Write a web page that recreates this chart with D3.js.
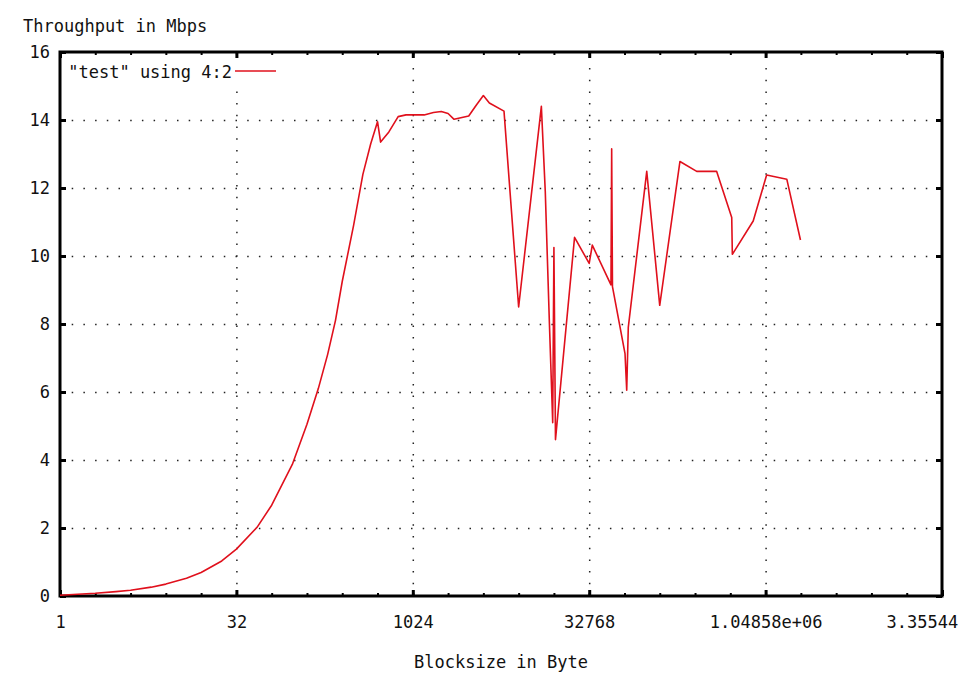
<!DOCTYPE html>
<html>
<head>
<meta charset="utf-8">
<script src="https://cdn.jsdelivr.net/npm/d3@7"></script>
<style>
body { margin: 0; background: #fff; }
text { font-family: "DejaVu Sans Mono", monospace; font-size: 17px; fill: #111; }
</style>
</head>
<body>
<div id="chart"></div>
<script>
// data
var blocksize = [1, 2, 3, 4, 6, 8, 12, 16, 24, 32, 48, 64, 96, 128, 160, 192, 224, 256,
    320, 384, 448, 512, 544, 640, 768, 896, 1024, 1280, 1536, 1792, 2048, 2304, 3072,
    3584, 4096, 4608, 6144, 8192, 12800, 13824, 15000, 16000, 16384, 16896, 24576,
    32768, 34816, 50260, 50960, 51750, 66230, 68470, 70630, 101500, 131000, 194900,
    271000, 400400, 539000, 545600, 822000, 1070000, 1590000, 2080000];
var mbps = [0.02, 0.08, 0.13, 0.17, 0.26, 0.35, 0.52, 0.69, 1.03, 1.38, 2.02, 2.67, 3.87,
    5.05, 6.1, 7.1, 8.1, 9.25, 10.9, 12.4, 13.3, 13.95, 13.35, 13.65, 14.1, 14.15, 14.15,
    14.15, 14.22, 14.25, 14.19, 14.02, 14.12, 14.45, 14.72, 14.5, 14.26, 8.5, 14.4, 11.9,
    8.0, 5.1, 10.25, 4.6, 10.55, 9.78, 10.32, 9.15, 13.15, 9.1, 7.13, 6.05, 7.9, 12.49,
    8.55, 12.78, 12.49, 12.49, 11.13, 10.05, 11.03, 12.38, 12.26, 10.47];

var xTickValues = [1, 32, 1024, 32768, 1048576, 33554432];
// last label is cut at the window edge in the original
var xTickLabels = ["1", "32", "1024", "32768", "1.04858e+06", "3.35544"];
var yTickValues = [0, 2, 4, 6, 8, 10, 12, 14, 16];
var seriesName = "\"test\" using 4:2";

var svgWidth = 963;
var svgHeight = 677;
var margin = { top: 52, right: 21, bottom: 81, left: 60 };
var width = svgWidth - margin.left - margin.right;
var height = svgHeight - margin.top - margin.bottom;

var svg = d3.select("#chart")
    .append("svg")
    .attr("width", svgWidth)
    .attr("height", svgHeight);

var chartGroup = svg.append("g")
    .attr("transform", `translate(${margin.left},${margin.top})`);

var data = blocksize.map((b, i) => ({ x: b, y: mbps[i] }));

var xScale = d3.scaleLog().base(2)
    .domain([1, 33554432])
    .range([0, width]);
var yScale = d3.scaleLinear()
    .domain([0, 16])
    .range([height, 0]);

// minor ticks every power of two
var xMinor = d3.range(0, 26).map(i => Math.pow(2, i));

// grid (dotted)
var gridX = chartGroup.append("g")
    .attr("transform", `translate(0,${height})`)
    .call(d3.axisBottom(xScale).tickValues(xTickValues.slice(1, -1)).tickSize(-height).tickFormat(""));
var gridY = chartGroup.append("g")
    .call(d3.axisLeft(yScale).tickValues(yTickValues.slice(1, -1)).tickSize(-width).tickFormat(""));
[gridX, gridY].forEach(function(g) {
    g.select(".domain").remove();
    g.selectAll("line")
        .attr("stroke", "#222")
        .attr("stroke-width", 1.5)
        .attr("stroke-dasharray", "1.5,10.2");
});

// legend background masks the grid
chartGroup.append("rect")
    .attr("x", 4).attr("y", 6)
    .attr("width", 220).attr("height", 32)
    .attr("fill", "#fff");

// minor ticks bottom / top
function styleTicks(g, w) {
    g.select(".domain").remove();
    g.selectAll("line").attr("stroke", "#000").attr("stroke-width", w);
}
chartGroup.append("g")
    .attr("transform", `translate(0,${height})`)
    .call(d3.axisBottom(xScale).tickValues(xMinor).tickSize(-3).tickFormat(""))
    .call(g => styleTicks(g, 2));
chartGroup.append("g")
    .call(d3.axisTop(xScale).tickValues(xMinor).tickSize(-3).tickFormat(""))
    .call(g => styleTicks(g, 2));

// major ticks with labels
var bottomAxis = d3.axisBottom(xScale)
    .tickValues(xTickValues)
    .tickSize(-6)
    .tickPadding(20)
    .tickFormat((d, i) => xTickLabels[i]);
var leftAxis = d3.axisLeft(yScale)
    .tickValues(yTickValues)
    .tickSize(-6)
    .tickPadding(10)
    .tickFormat(d3.format("d"));

var bx = chartGroup.append("g")
    .attr("transform", `translate(0,${height})`)
    .call(bottomAxis)
    .call(g => styleTicks(g, 3));
var ly = chartGroup.append("g")
    .call(leftAxis)
    .call(g => styleTicks(g, 3));
[bx, ly].forEach(function(g) {
    g.selectAll("text")
        .attr("font-family", "DejaVu Sans Mono, monospace")
        .attr("font-size", "17px")
        .attr("fill", "#111");
});
// the truncated last label starts where the full one would
bx.selectAll(".tick text")
    .filter((d, i) => i == xTickValues.length - 1)
    .attr("text-anchor", "start")
    .attr("x", -56);

chartGroup.append("g")
    .call(d3.axisTop(xScale).tickValues(xTickValues).tickSize(-6).tickFormat(""))
    .call(g => styleTicks(g, 3));
chartGroup.append("g")
    .attr("transform", `translate(${width},0)`)
    .call(d3.axisRight(yScale).tickValues(yTickValues).tickSize(-6).tickFormat(""))
    .call(g => styleTicks(g, 3));

// frame
chartGroup.append("rect")
    .attr("width", width)
    .attr("height", height)
    .attr("fill", "none")
    .attr("stroke", "#000")
    .attr("stroke-width", 3);

// the series
var line = d3.line()
    .x(d => xScale(d.x))
    .y(d => yScale(d.y));

chartGroup.append("path")
    .datum(data)
    .attr("d", line)
    .attr("fill", "none")
    .attr("stroke", "#e0101c")
    .attr("stroke-width", 1.6)
    .attr("stroke-linejoin", "round");

// legend
chartGroup.append("text")
    .attr("x", 172)
    .attr("y", 26)
    .attr("text-anchor", "end")
    .text(seriesName);
chartGroup.append("line")
    .attr("x1", 175).attr("x2", 216)
    .attr("y1", 19).attr("y2", 19)
    .attr("stroke", "#e0101c")
    .attr("stroke-width", 1.6);

// axis labels
svg.append("text")
    .attr("x", 23)
    .attr("y", 32)
    .text("Throughput in Mbps");

svg.append("text")
    .attr("x", margin.left + width / 2)
    .attr("y", 668)
    .attr("text-anchor", "middle")
    .text("Blocksize in Byte");
</script>
</body>
</html>
